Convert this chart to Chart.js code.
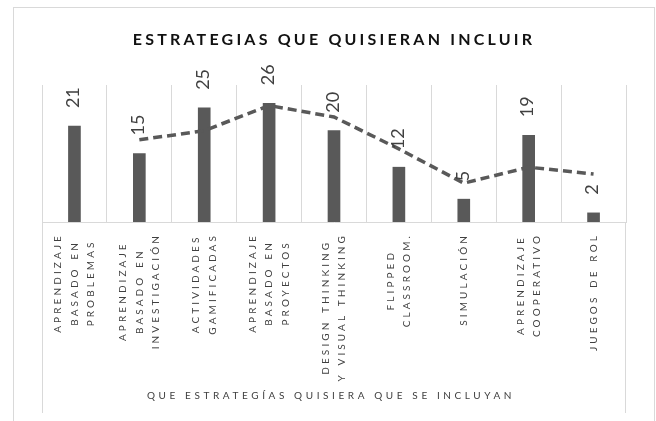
<!DOCTYPE html>
<html>
<head>
<meta charset="utf-8">
<script src="https://cdn.jsdelivr.net/npm/chart.js@4"></script>
<style>
  html, body { margin: 0; padding: 0; background: #fff; }
  #wrap { width: 656px; height: 421px; position: relative; }
</style>
</head>
<body>
<div id="wrap"><canvas id="chart"></canvas></div>
<script>
const categories = [
  ['APRENDIZAJE', 'BASADO EN', 'PROBLEMAS'],
  ['APRENDIZAJE', 'BASADO EN', 'INVESTIGACIÓN'],
  ['ACTIVIDADES', 'GAMIFICADAS'],
  ['APRENDIZAJE', 'BASADO EN', 'PROYECTOS'],
  ['DESIGN THINKING', 'Y VISUAL THINKING'],
  ['FLIPPED', 'CLASSROOM.'],
  ['SIMULACIÓN'],
  ['APRENDIZAJE', 'COOPERATIVO'],
  ['JUEGOS DE ROL']
];
const counts = [21, 15, 25, 26, 20, 12, 5, 19, 2];
const trend = [null, 18, 20, 25.5, 23, 16, 8.5, 12, 10.5];

const chartTitle = 'ESTRATEGIAS QUE QUISIERAN INCLUIR';
const axisTitle = 'QUE ESTRATEGÍAS QUISIERA QUE SE INCLUYAN';

const FONT = 'Lato, "Open Sans", sans-serif';
const GRID = '#d9d9d9';
const DARK = '#595959';

// frame, title, rotated category labels, axis title and value labels
const decorations = {
  id: 'decorations',
  beforeDraw(chart) {
    const { ctx, chartArea } = chart;
    ctx.save();
    ctx.strokeStyle = GRID;
    ctx.lineWidth = 1;
    ctx.strokeRect(13.5, 7.5, 641, 500);
    ctx.beginPath();
    ctx.moveTo(Math.round(chartArea.left) + 0.5, chartArea.bottom);
    ctx.lineTo(Math.round(chartArea.left) + 0.5, 413);
    ctx.moveTo(Math.round(chartArea.right) - 0.5, chartArea.bottom);
    ctx.lineTo(Math.round(chartArea.right) - 0.5, 413);
    ctx.stroke();

    ctx.fillStyle = '#111';
    ctx.font = 'bold 16px ' + FONT;
    ctx.letterSpacing = '3.2px';
    ctx.textAlign = 'center';
    ctx.textBaseline = 'middle';
    ctx.fillText(chartTitle, 334, 40);

    const xs = chart.scales.x;
    ctx.fillStyle = '#404040';
    ctx.font = '10px ' + FONT;
    ctx.letterSpacing = '3.1px';
    ctx.wordSpacing = '1px';
    categories.forEach((lines, i) => {
      const cx = xs.getPixelForValue(i);
      const maxW = Math.max(...lines.map(l => ctx.measureText(l).width));
      lines.forEach((line, j) => {
        const lx = cx + (j - (lines.length - 1) / 2) * 16.5;
        ctx.save();
        ctx.translate(lx, 233 + maxW / 2);
        ctx.rotate(-Math.PI / 2);
        ctx.fillText(line, 0, 0);
        ctx.restore();
      });
    });

    ctx.wordSpacing = '0px';
    ctx.letterSpacing = '3.6px';
    ctx.fillText(axisTitle, 331, 396);
    ctx.restore();
  },
  afterDatasetsDraw(chart) {
    const { ctx } = chart;
    const meta = chart.getDatasetMeta(1);
    ctx.save();
    ctx.fillStyle = '#404040';
    ctx.font = '18px ' + FONT;
    ctx.textAlign = 'left';
    ctx.textBaseline = 'middle';
    meta.data.forEach((bar, i) => {
      ctx.save();
      ctx.translate(bar.x - 1, bar.y - 18);
      ctx.rotate(-Math.PI / 2);
      ctx.fillText(String(counts[i]), 0, 0);
      ctx.restore();
    });
    ctx.restore();
  }
};

new Chart(document.getElementById('chart'), {
  data: {
    labels: categories,
    datasets: [
      {
        type: 'line',
        data: trend,
        borderColor: DARK,
        borderWidth: 3.5,
        borderDash: [9, 5],
        pointRadius: 0,
        tension: 0,
        fill: false,
        order: 0
      },
      {
        type: 'bar',
        data: counts,
        backgroundColor: DARK,
        barThickness: 12,
        order: 1
      }
    ]
  },
  options: {
    responsive: true,
    maintainAspectRatio: false,
    animation: false,
    layout: { padding: { left: 42, right: 30, top: 85, bottom: 199 } },
    plugins: {
      legend: { display: false },
      tooltip: { enabled: false }
    },
    scales: {
      x: {
        offset: true,
        ticks: { display: false },
        grid: { color: GRID, drawTicks: false, offset: true },
        border: { color: GRID }
      },
      y: {
        display: false,
        min: 0,
        max: 30
      }
    }
  },
  plugins: [decorations]
});
</script>
</body>
</html>
